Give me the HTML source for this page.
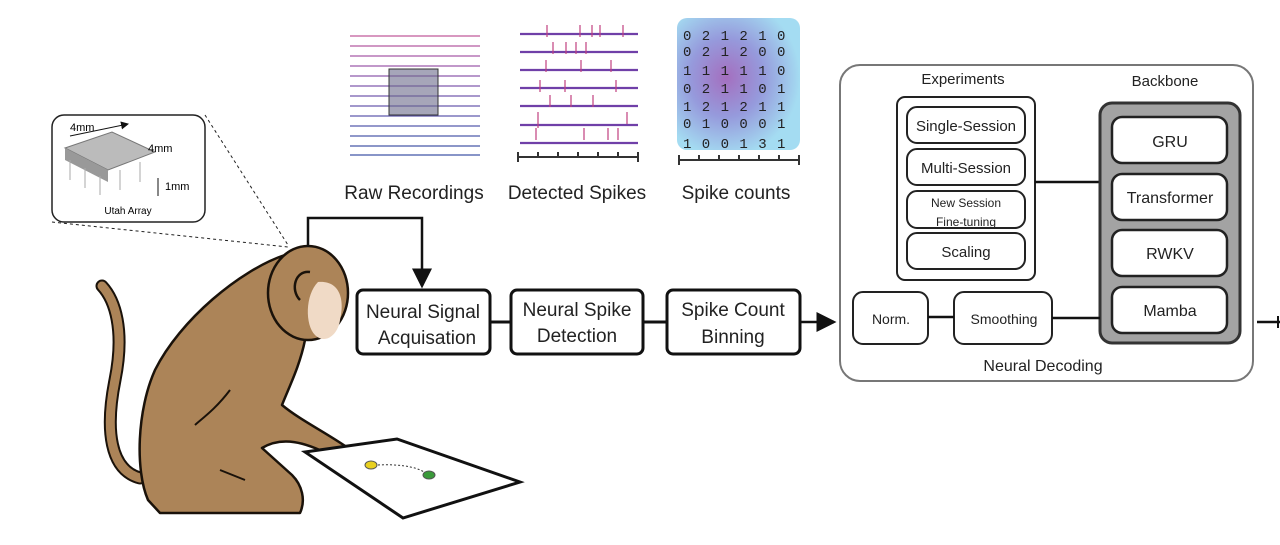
<!DOCTYPE html>
<html><head><meta charset="utf-8"><style>
body{margin:0;background:#fff;}
svg{display:block;font-family:"Liberation Sans","DejaVu Sans",sans-serif;}
</style></head><body>
<svg width="1280" height="545" viewBox="0 0 1280 545">
<defs>
<radialGradient id="g1" cx="0.4" cy="0.45" r="0.6">
<stop offset="0" stop-color="#9a5fb8"/><stop offset="0.5" stop-color="#8a8fd8"/><stop offset="1" stop-color="#9ad8f0"/></radialGradient>
<marker id="ar" markerWidth="8" markerHeight="8" refX="7" refY="4" orient="auto"><path d="M0,0L8,4L0,8z" fill="#111"/></marker>
</defs>
<!-- Utah array -->
<rect x="52" y="115" width="153" height="107" rx="12" fill="#fff" stroke="#222" stroke-width="1.5"/>
<polygon points="65,148 112,132 155,152 108,170" fill="#bbb" stroke="#777"/>
<polygon points="65,148 108,170 108,182 65,160" fill="#999"/>
<g stroke="#aaa" stroke-width="1"><line x1="70" y1="160" x2="70" y2="180"/><line x1="85" y1="168" x2="85" y2="188"/><line x1="100" y1="176" x2="100" y2="195"/><line x1="120" y1="170" x2="120" y2="190"/><line x1="140" y1="162" x2="140" y2="182"/></g>
<text x="70" y="131" font-size="11">4mm</text><line x1="70" y1="136" x2="128" y2="124" stroke="#111" marker-end="url(#ar)"/>
<text x="148" y="152" font-size="11">4mm</text><text x="165" y="190" font-size="11">1mm</text>
<line x1="158" y1="178" x2="158" y2="196" stroke="#111"/>
<text x="128" y="214" font-size="10" text-anchor="middle">Utah Array</text>
<line x1="52" y1="222" x2="288" y2="247" stroke="#222" stroke-dasharray="3,3"/>
<line x1="205" y1="115" x2="288" y2="245" stroke="#222" stroke-dasharray="3,3"/>
<!-- monkey -->
<path d="M102,286 C115,300 125,330 115,380 C105,430 110,470 140,478" fill="none" stroke="#1a120a" stroke-width="13" stroke-linecap="round"/>
<path d="M102,286 C115,300 125,330 115,380 C105,430 110,470 140,478" fill="none" stroke="#ac8458" stroke-width="9" stroke-linecap="round"/>
<g fill="#ac8458" stroke="#1a120a" stroke-width="2.5" stroke-linejoin="round">
<path d="M285,255 C240,270 180,320 155,370 C137,410 135,470 148,500 L160,513 L300,513 C306,500 302,485 292,475 L262,448 C282,436 305,442 330,455 L352,468 C362,466 362,458 348,448 C325,432 300,420 282,405 C290,385 300,365 305,340 L310,300 Z"/>
<ellipse cx="308" cy="293" rx="40" ry="47"/>
</g>
<path d="M318,282 C340,280 345,300 340,320 C338,335 325,345 315,335 C305,325 305,295 318,282Z" fill="#f0dac6"/>
<path d="M300,300 C290,290 295,270 310,272" fill="none" stroke="#1a120a" stroke-width="2.5"/>
<path d="M230,390 C215,410 200,420 195,425 M220,470 L245,480" fill="none" stroke="#1a120a" stroke-width="2"/>
<!-- tablet -->
<polygon points="305,452 397,439 520,482 403,518" fill="#fff" stroke="#111" stroke-width="3"/>
<ellipse cx="371" cy="465" rx="6" ry="4" fill="#e8d020" stroke="#555"/>
<ellipse cx="429" cy="475" rx="6" ry="4" fill="#3a9a3a" stroke="#555"/>
<path d="M378,465 C395,464 415,466 424,472" fill="none" stroke="#333" stroke-dasharray="2,2"/>
<!-- connector from monkey -->
<polyline points="308,247 308,218 422,218 422,286" fill="none" stroke="#111" stroke-width="2.5" marker-end="url(#ar)"/>
<!-- raw recordings -->
<g stroke-width="1.2" fill="none">
<path d="M350,36 h130" stroke="#c05a9a"/><path d="M350,46 h130" stroke="#b45aa0"/><path d="M350,56 h130" stroke="#a85aa6"/><path d="M350,66 h130" stroke="#9c5aaa"/><path d="M350,76 h130" stroke="#8e5aac"/><path d="M350,86 h130" stroke="#805aae"/><path d="M350,96 h130" stroke="#745aae"/><path d="M350,106 h130" stroke="#6a5aae"/><path d="M350,116 h130" stroke="#605aae"/><path d="M350,126 h130" stroke="#565aac"/><path d="M350,136 h130" stroke="#4e5aaa"/><path d="M350,146 h130" stroke="#4858a8"/><path d="M350,155 h130" stroke="#4256a6"/>
</g>
<rect x="389" y="69" width="49" height="46" fill="#6a6a8a" fill-opacity="0.6" stroke="#333"/>
<!-- detected spikes -->
<g stroke="#7040a8" stroke-width="2.2" fill="none">
<path d="M520,34h118M520,52h118M520,70h118M520,88h118M520,106h118M520,125h118M520,143h118"/>
</g>
<g stroke="#c04080" stroke-width="1.2"><path d="M547,25v12M580,25v12M592,25v12M600,25v12M623,25v12M553,42v12M566,42v12M576,42v12M586,42v12M546,60v12M581,60v12M611,60v12M540,80v12M565,80v12M616,80v12M550,95v12M571,95v12M593,95v12M538,112v16M627,112v12M536,128v12M584,128v12M608,128v12M618,128v12"/></g>
<path d="M518,162v-10M518,157h120M538,152v5M558,152v5M578,152v5M598,152v5M618,152v5M638,152v10" stroke="#333" stroke-width="2" fill="none"/>
<!-- spike counts -->
<rect x="677" y="18" width="123" height="132" rx="10" fill="url(#g1)" opacity="0.9"/>
<g font-family="Liberation Mono,monospace" font-size="14" fill="#222" letter-spacing="10.4">
<text x="683" y="40">021210</text><text x="683" y="56">021200</text><text x="683" y="75">111110</text><text x="683" y="93">021101</text><text x="683" y="111">121211</text><text x="683" y="128">010001</text><text x="683" y="148">100131</text>
</g>
<path d="M679,165v-10M679,160h120M699,155v5M719,155v5M739,155v5M759,155v5M779,155v5M799,155v10" stroke="#333" stroke-width="2" fill="none"/>
<g font-size="19" fill="#222" text-anchor="middle"><text x="414" y="199">Raw Recordings</text><text x="577" y="199">Detected Spikes</text><text x="736" y="199">Spike counts</text></g>
<!-- pipeline -->
<g fill="#fff" stroke="#111" stroke-width="3">
<rect x="357" y="290" width="133" height="64" rx="6"/><rect x="511" y="290" width="132" height="64" rx="6"/><rect x="667" y="290" width="133" height="64" rx="6"/>
</g>
<g stroke="#111" stroke-width="3"><line x1="490" y1="322" x2="511" y2="322"/><line x1="643" y1="322" x2="667" y2="322"/></g>
<line x1="800" y1="322" x2="834" y2="322" stroke="#111" stroke-width="2.5" marker-end="url(#ar)"/>
<g font-size="19" fill="#222" text-anchor="middle">
<text x="423" y="318">Neural Signal</text><text x="427" y="344">Acquisation</text>
<text x="577" y="316">Neural Spike</text><text x="577" y="342">Detection</text>
<text x="733" y="316">Spike Count</text><text x="733" y="343">Binning</text>
</g>
<!-- decoding -->
<rect x="840" y="65" width="413" height="316" rx="20" fill="#fff" stroke="#777" stroke-width="2"/>
<text x="963" y="84" font-size="15" text-anchor="middle" fill="#222">Experiments</text>
<text x="1165" y="86" font-size="15" text-anchor="middle" fill="#222">Backbone</text>
<rect x="897" y="97" width="138" height="183" rx="8" fill="#fff" stroke="#222" stroke-width="2"/>
<g fill="#fff" stroke="#222" stroke-width="2">
<rect x="907" y="107" width="118" height="36" rx="10"/><rect x="907" y="149" width="118" height="36" rx="10"/><rect x="907" y="191" width="118" height="37" rx="10"/><rect x="907" y="233" width="118" height="36" rx="10"/>
</g>
<g font-size="15" text-anchor="middle" fill="#222">
<text x="966" y="131">Single-Session</text><text x="966" y="173">Multi-Session</text>
<text x="966" y="207" font-size="12">New Session</text><text x="966" y="226" font-size="12">Fine-tuning</text>
<text x="966" y="257">Scaling</text>
</g>
<line x1="1035" y1="182" x2="1100" y2="182" stroke="#111" stroke-width="2.5"/>
<rect x="1100" y="103" width="140" height="240" rx="12" fill="#a3a3a3" stroke="#333" stroke-width="3"/>
<g fill="#fff" stroke="#222" stroke-width="2.5">
<rect x="1112" y="117" width="115" height="46" rx="10"/><rect x="1112" y="174" width="115" height="46" rx="10"/><rect x="1112" y="230" width="115" height="46" rx="10"/><rect x="1112" y="287" width="115" height="46" rx="10"/>
</g>
<g font-size="16" text-anchor="middle" fill="#222">
<text x="1170" y="147">GRU</text><text x="1170" y="203">Transformer</text><text x="1170" y="259">RWKV</text><text x="1170" y="316">Mamba</text>
</g>
<g fill="#fff" stroke="#222" stroke-width="2"><rect x="853" y="292" width="75" height="52" rx="10"/><rect x="954" y="292" width="98" height="52" rx="10"/></g>
<g stroke="#111" stroke-width="2.5"><line x1="928" y1="317" x2="954" y2="317"/><line x1="1052" y1="318" x2="1100" y2="318"/></g>
<g font-size="14" text-anchor="middle" fill="#222"><text x="891" y="324">Norm.</text><text x="1004" y="324">Smoothing</text></g>
<text x="1043" y="371" font-size="16" text-anchor="middle" fill="#222">Neural Decoding</text>
<line x1="1257" y1="322" x2="1280" y2="322" stroke="#111" stroke-width="2.5"/>
<line x1="1278" y1="316" x2="1278" y2="328" stroke="#111" stroke-width="2"/>
</svg>
</body></html>
